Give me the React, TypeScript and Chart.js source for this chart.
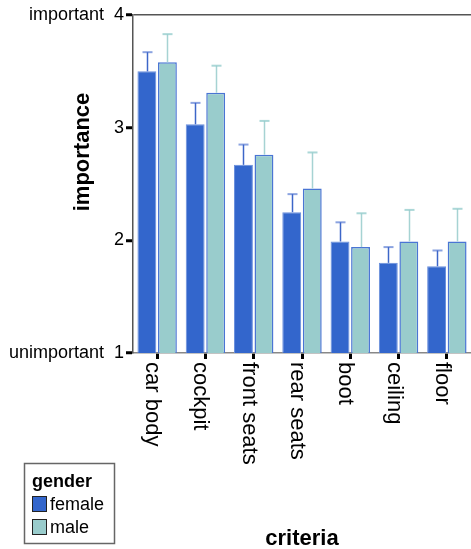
import React, { useEffect, useRef } from "react";
import { Chart, registerables } from "chart.js";

Chart.register(...registerables);

const categories = ["car body", "cockpit", "front seats", "rear seats", "boot", "ceiling", "floor"];
const femaleMeans = [3.5, 3.03, 2.67, 2.25, 1.99, 1.8, 1.77];
const femaleUpper = [3.67, 3.22, 2.85, 2.41, 2.16, 1.94, 1.91];
const maleMeans = [3.58, 3.31, 2.76, 2.46, 1.94, 1.99, 1.99];
const maleUpper = [3.83, 3.55, 3.06, 2.78, 2.24, 2.27, 2.28];
const yTickValues = [1, 2, 3, 4];
const yTickLabels = ["unimportant  1", "2", "3", "important  4"];
const seriesNames = ["female", "male"];
const legendTitle = "gender";
const xTitle = "criteria";
const yTitle = "importance";

const FONT = "'Liberation Sans', Arial, sans-serif";
const FEMALE = "#3366cc";
const MALE = "#99cccc";

const upperBySeries = [femaleUpper, maleUpper];
const stemColors = ["#3d66c8", "#a6d3d3"];
const capColors = ["rgba(61,102,204,0.6)", "rgba(150,205,205,0.8)"];

const drawPlugin = {
  id: "customDraw",
  afterDatasetsDraw(chart: any) {
    const ctx = chart.ctx;
    const yScale = chart.scales.y;
    chart.data.datasets.forEach((ds: any, di: number) => {
      const meta = chart.getDatasetMeta(di);
      meta.data.forEach((bar: any, i: number) => {
        const top = yScale.getPixelForValue(upperBySeries[di][i]);
        const x = Math.round(bar.x) + 0.5;
        ctx.save();
        ctx.strokeStyle = stemColors[di];
        ctx.lineWidth = 1.5;
        ctx.beginPath();
        ctx.moveTo(x, bar.y);
        ctx.lineTo(x, top);
        ctx.stroke();
        ctx.strokeStyle = capColors[di];
        ctx.lineWidth = 2;
        ctx.beginPath();
        ctx.moveTo(x - 5, top);
        ctx.lineTo(x + 5, top);
        ctx.stroke();
        ctx.restore();
      });
    });
  },
  afterDraw(chart: any) {
    const ctx = chart.ctx;
    const area = chart.chartArea;
    const xScale = chart.scales.x;
    ctx.save();
    ctx.fillStyle = "#000";
    // x category labels, rotated clockwise
    ctx.font = `22px ${FONT}`;
    ctx.textAlign = "left";
    ctx.textBaseline = "middle";
    categories.forEach((c, i) => {
      const x = xScale.getPixelForValue(i);
      ctx.save();
      ctx.translate(x - 5, area.bottom + 9);
      ctx.rotate(Math.PI / 2);
      ctx.fillText(c, 0, 0);
      ctx.restore();
    });
    // x title
    ctx.font = `bold 22px ${FONT}`;
    ctx.textAlign = "center";
    ctx.textBaseline = "alphabetic";
    ctx.fillText(xTitle, (area.left + area.right) / 2, 545);
    // y title
    ctx.save();
    ctx.translate(83, 152);
    ctx.rotate(-Math.PI / 2);
    ctx.textBaseline = "middle";
    ctx.fillText(yTitle, 0, 0);
    ctx.restore();
    // legend
    ctx.strokeStyle = "#666";
    ctx.lineWidth = 1.5;
    ctx.fillStyle = "#fff";
    ctx.fillRect(24.5, 463.5, 90, 80);
    ctx.strokeRect(24.5, 463.5, 90, 80);
    ctx.fillStyle = "#000";
    ctx.font = `bold 18px ${FONT}`;
    ctx.textAlign = "left";
    ctx.textBaseline = "alphabetic";
    ctx.fillText(legendTitle, 32, 487);
    const colors = [FEMALE, MALE];
    seriesNames.forEach((n, i) => {
      const y = 496 + i * 23;
      ctx.fillStyle = colors[i];
      ctx.fillRect(32.5, y + 0.5, 14, 15);
      ctx.strokeStyle = "#222";
      ctx.lineWidth = 1;
      ctx.strokeRect(32.5, y + 0.5, 14, 15);
      ctx.fillStyle = "#000";
      ctx.font = `18px ${FONT}`;
      ctx.textBaseline = "middle";
      ctx.fillText(n, 50, y + 9);
    });
    ctx.restore();
  },
};

export default function App() {
  const ref = useRef<HTMLCanvasElement | null>(null);
  useEffect(() => {
    if (!ref.current) return;
    const chart = new Chart(ref.current, {
      type: "bar",
      data: {
        labels: categories,
        datasets: [
          {
            label: seriesNames[0],
            data: femaleMeans,
            backgroundColor: FEMALE,
            borderColor: "#6a8fdc",
            borderWidth: 1,
            barPercentage: 0.92,
            categoryPercentage: 0.85,
          },
          {
            label: seriesNames[1],
            data: maleMeans,
            backgroundColor: MALE,
            borderColor: "#4a75d4",
            borderWidth: 1.5,
            barPercentage: 0.92,
            categoryPercentage: 0.85,
          },
        ],
      },
      options: {
        animation: false,
        responsive: true,
        maintainAspectRatio: false,
        layout: { padding: { top: 15, left: 0, right: 0, bottom: 0 } },
        plugins: { legend: { display: false }, tooltip: { enabled: false } },
        scales: {
          x: {
            offset: true,
            grid: {
              display: true,
              offset: false,
              drawOnChartArea: false,
              drawTicks: true,
              tickLength: 6,
              tickColor: "#000",
              tickWidth: 3,
            },
            border: { color: "#888", width: 1.5 },
            ticks: { display: false },
            afterFit: (s: any) => {
              s.height = 549 - 353;
            },
          },
          y: {
            min: 1,
            max: 4,
            afterBuildTicks: (s: any) => {
              s.ticks = yTickValues.map((v) => ({ value: v }));
            },
            ticks: {
              font: { family: FONT, size: 18 },
              color: "#000",
              padding: 2,
              callback: (v: any) => yTickLabels[yTickValues.indexOf(Number(v))] ?? "",
            },
            grid: {
              display: true,
              drawOnChartArea: true,
              color: (c: any) => (c.tick && c.tick.value === 4 ? "#555" : "rgba(0,0,0,0)"),
              lineWidth: 1.5,
              tickLength: 7,
              tickColor: "#000",
              tickWidth: 3,
            },
            border: { color: "#555", width: 1.5 },
            afterFit: (s: any) => {
              s.width = 133;
            },
          },
        },
      },
      plugins: [drawPlugin],
    });
    return () => chart.destroy();
  }, []);
  return (
    <div style={{ position: "fixed", left: 0, top: 0, width: 471, height: 549, background: "#fff" }}>
      <canvas ref={ref} />
    </div>
  );
}
